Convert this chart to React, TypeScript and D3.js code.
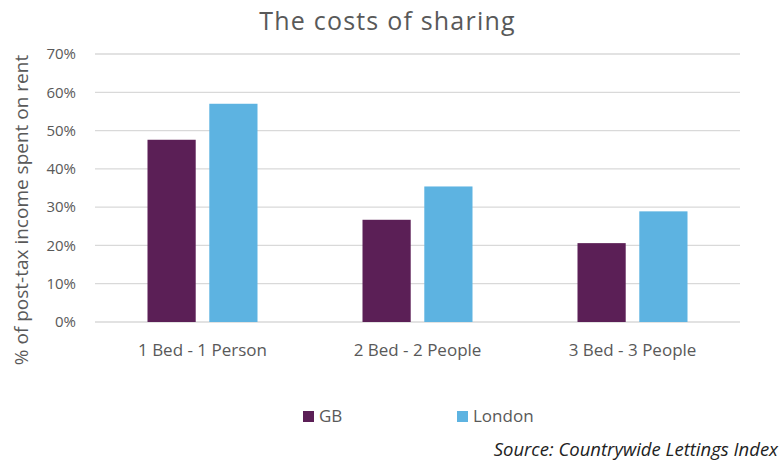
import React from "react";
import * as d3 from "d3";

const categories = ["1 Bed - 1 Person", "2 Bed - 2 People", "3 Bed - 3 People"];
const seriesNames = ["GB", "London"];
const gbValues = [47.6, 26.7, 20.6];
const londonValues = [57, 35.4, 28.9];
const yTicks = [0, 10, 20, 30, 40, 50, 60, 70];
const colors = ["#5B1F56", "#5DB3E1"];

const W = 783;
const H = 465;
const plot = { left: 95, right: 740, top: 54, bottom: 322 };
const font = "'Open Sans', 'Liberation Sans', sans-serif";
const textColor = "#595959";

export default function App() {
  const y = d3.scaleLinear().domain([0, 70]).range([plot.bottom, plot.top]);
  const x0 = d3.scaleBand<string>().domain(categories).range([plot.left, plot.right]).paddingInner(0).paddingOuter(0);
  const groupW = 110;
  const x1 = d3.scaleBand<string>().domain(seriesNames).range([0, groupW]).paddingInner(0.22).paddingOuter(0);
  const values = [gbValues, londonValues];

  return (
    <svg width={W} height={H} style={{ position: "absolute", left: 0, top: 0, background: "#fff" }}>
      <text x={387.5} y={30} textAnchor="middle" fontFamily={font} fontSize={25} letterSpacing={1.2} fill={textColor}>
        The costs of sharing
      </text>
      {yTicks.map((t) => (
        <g key={t}>
          <line x1={plot.left} x2={plot.right} y1={y(t)} y2={y(t)} stroke="#d9d9d9" strokeWidth={1.3} />
          <text x={76} y={y(t)} dy="0.35em" textAnchor="end" fontFamily={font} fontSize={15} fill={textColor}>
            {t}%
          </text>
        </g>
      ))}
      {categories.map((c, i) => {
        const gx = x0(c)! + (x0.bandwidth() - groupW) / 2;
        return (
          <g key={c}>
            {seriesNames.map((s, j) => (
              <rect
                key={s}
                x={gx + x1(s)!}
                width={x1.bandwidth()}
                y={y(values[j][i])}
                height={y(0) - y(values[j][i])}
                fill={colors[j]}
              />
            ))}
            <text x={x0(c)! + x0.bandwidth() / 2} y={356} textAnchor="middle" fontFamily={font} fontSize={17} fill={textColor}>
              {c}
            </text>
          </g>
        );
      })}
      <text
        transform={`translate(28, 210) rotate(-90)`}
        textAnchor="middle"
        fontFamily={font}
        fontSize={19}
        fill={textColor}
      >
        % of post-tax income spent on rent
      </text>
      {seriesNames.map((s, j) => {
        const lx = [303, 457][j];
        return (
          <g key={s}>
            <rect x={lx} y={411} width={11} height={11} fill={colors[j]} />
            <text x={lx + 16} y={422} fontFamily={font} fontSize={17} fill={textColor}>
              {s}
            </text>
          </g>
        );
      })}
      <text x={778} y={456} textAnchor="end" fontFamily={font} fontSize={18.5} fontStyle="italic" fill="#222">
        Source: Countrywide Lettings Index
      </text>
    </svg>
  );
}
